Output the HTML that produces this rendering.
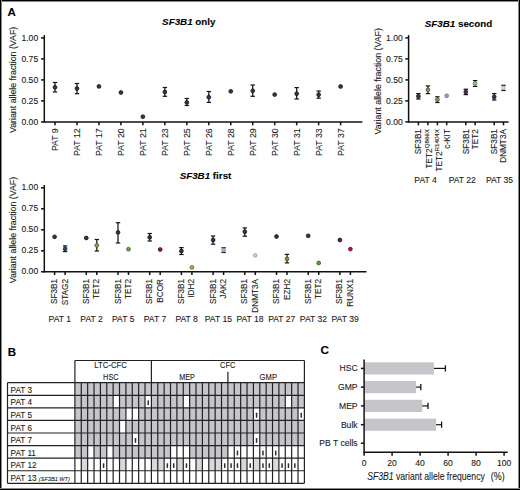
<!DOCTYPE html><html><head><meta charset="utf-8"><style>
html,body{margin:0;padding:0;background:#fff;}
svg{display:block;}
text{font-family:"Liberation Sans", sans-serif;stroke:#1a1a1a;stroke-width:0.1px;}
</style></head><body>
<svg width="520" height="490" viewBox="0 0 520 490">
<rect x="0" y="0" width="520" height="490" fill="#fff" />
<text x="7.5" y="15.6" font-size="11.5" text-anchor="start" font-weight="bold" font-style="normal" fill="#000" >A</text>
<text x="188.8" y="25.4" font-size="9.8" text-anchor="middle" font-weight="bold" fill="#000"><tspan font-style="italic">SF3B1</tspan> only</text>
<line x1="44.3" y1="35.10000000000001" x2="44.3" y2="122.5" stroke="#111" stroke-width="1.5"/>
<line x1="41.0" y1="37.900000000000006" x2="44.3" y2="37.900000000000006" stroke="#111" stroke-width="1.5"/>
<text x="38.2" y="40.50000000000001" font-size="8.6" text-anchor="end" font-weight="normal" font-style="normal" fill="#1a1a1a" >1.00</text>
<line x1="41.0" y1="58.900000000000006" x2="44.3" y2="58.900000000000006" stroke="#111" stroke-width="1.5"/>
<text x="38.2" y="61.50000000000001" font-size="8.6" text-anchor="end" font-weight="normal" font-style="normal" fill="#1a1a1a" >0.75</text>
<line x1="41.0" y1="79.9" x2="44.3" y2="79.9" stroke="#111" stroke-width="1.5"/>
<text x="38.2" y="82.5" font-size="8.6" text-anchor="end" font-weight="normal" font-style="normal" fill="#1a1a1a" >0.50</text>
<line x1="41.0" y1="100.9" x2="44.3" y2="100.9" stroke="#111" stroke-width="1.5"/>
<text x="38.2" y="103.5" font-size="8.6" text-anchor="end" font-weight="normal" font-style="normal" fill="#1a1a1a" >0.25</text>
<line x1="41.0" y1="121.9" x2="44.3" y2="121.9" stroke="#111" stroke-width="1.5"/>
<text x="38.2" y="124.5" font-size="8.6" text-anchor="end" font-weight="normal" font-style="normal" fill="#1a1a1a" >0.00</text>
<text transform="translate(15.6,79.9) rotate(-90)" font-size="8.8" text-anchor="middle" fill="#1a1a1a">Variant allele fraction (VAF)</text>
<line x1="43.699999999999996" y1="121.9" x2="362.4" y2="121.9" stroke="#111" stroke-width="1.5"/>
<line x1="55.0" y1="121.9" x2="55.0" y2="125.30000000000001" stroke="#111" stroke-width="1.5"/>
<text transform="translate(58.1,128.4) rotate(-90)" font-size="8.7" text-anchor="end" fill="#1a1a1a">PAT 9</text>
<line x1="55.0" y1="82.5" x2="55.0" y2="92.0" stroke="#151515" stroke-width="1.25"/>
<line x1="52.8" y1="82.5" x2="57.2" y2="82.5" stroke="#151515" stroke-width="1.2"/>
<line x1="52.8" y1="92.0" x2="57.2" y2="92.0" stroke="#151515" stroke-width="1.2"/>
<circle cx="55.0" cy="87.3" r="1.9" fill="#472a58" stroke="#190e20" stroke-width="0.8"/>
<line x1="76.97" y1="121.9" x2="76.97" y2="125.30000000000001" stroke="#111" stroke-width="1.5"/>
<text transform="translate(80.07,128.4) rotate(-90)" font-size="8.7" text-anchor="end" fill="#1a1a1a">PAT 12</text>
<line x1="76.97" y1="83.5" x2="76.97" y2="93.7" stroke="#151515" stroke-width="1.25"/>
<line x1="74.77" y1="83.5" x2="79.17" y2="83.5" stroke="#151515" stroke-width="1.2"/>
<line x1="74.77" y1="93.7" x2="79.17" y2="93.7" stroke="#151515" stroke-width="1.2"/>
<circle cx="76.97" cy="88.5" r="1.9" fill="#472a58" stroke="#190e20" stroke-width="0.8"/>
<line x1="98.94" y1="121.9" x2="98.94" y2="125.30000000000001" stroke="#111" stroke-width="1.5"/>
<text transform="translate(102.03999999999999,128.4) rotate(-90)" font-size="8.7" text-anchor="end" fill="#1a1a1a">PAT 17</text>
<circle cx="98.94" cy="86.4" r="1.9" fill="#472a58" stroke="#190e20" stroke-width="0.8"/>
<line x1="120.91" y1="121.9" x2="120.91" y2="125.30000000000001" stroke="#111" stroke-width="1.5"/>
<text transform="translate(124.00999999999999,128.4) rotate(-90)" font-size="8.7" text-anchor="end" fill="#1a1a1a">PAT 20</text>
<circle cx="120.91" cy="92.5" r="1.9" fill="#472a58" stroke="#190e20" stroke-width="0.8"/>
<line x1="142.88" y1="121.9" x2="142.88" y2="125.30000000000001" stroke="#111" stroke-width="1.5"/>
<text transform="translate(145.98,128.4) rotate(-90)" font-size="8.7" text-anchor="end" fill="#1a1a1a">PAT 21</text>
<circle cx="142.88" cy="116.7" r="1.9" fill="#472a58" stroke="#190e20" stroke-width="0.8"/>
<line x1="164.85" y1="121.9" x2="164.85" y2="125.30000000000001" stroke="#111" stroke-width="1.5"/>
<text transform="translate(167.95,128.4) rotate(-90)" font-size="8.7" text-anchor="end" fill="#1a1a1a">PAT 23</text>
<line x1="164.85" y1="87.5" x2="164.85" y2="96.3" stroke="#151515" stroke-width="1.25"/>
<line x1="162.65" y1="87.5" x2="167.04999999999998" y2="87.5" stroke="#151515" stroke-width="1.2"/>
<line x1="162.65" y1="96.3" x2="167.04999999999998" y2="96.3" stroke="#151515" stroke-width="1.2"/>
<circle cx="164.85" cy="92.0" r="1.9" fill="#472a58" stroke="#190e20" stroke-width="0.8"/>
<line x1="186.82" y1="121.9" x2="186.82" y2="125.30000000000001" stroke="#111" stroke-width="1.5"/>
<text transform="translate(189.92,128.4) rotate(-90)" font-size="8.7" text-anchor="end" fill="#1a1a1a">PAT 25</text>
<line x1="186.82" y1="98.5" x2="186.82" y2="105.5" stroke="#151515" stroke-width="1.25"/>
<line x1="184.62" y1="98.5" x2="189.01999999999998" y2="98.5" stroke="#151515" stroke-width="1.2"/>
<line x1="184.62" y1="105.5" x2="189.01999999999998" y2="105.5" stroke="#151515" stroke-width="1.2"/>
<circle cx="186.82" cy="102.4" r="1.9" fill="#472a58" stroke="#190e20" stroke-width="0.8"/>
<line x1="208.79" y1="121.9" x2="208.79" y2="125.30000000000001" stroke="#111" stroke-width="1.5"/>
<text transform="translate(211.89,128.4) rotate(-90)" font-size="8.7" text-anchor="end" fill="#1a1a1a">PAT 26</text>
<line x1="208.79" y1="91.5" x2="208.79" y2="102.4" stroke="#151515" stroke-width="1.25"/>
<line x1="206.59" y1="91.5" x2="210.98999999999998" y2="91.5" stroke="#151515" stroke-width="1.2"/>
<line x1="206.59" y1="102.4" x2="210.98999999999998" y2="102.4" stroke="#151515" stroke-width="1.2"/>
<circle cx="208.79" cy="97.2" r="1.9" fill="#472a58" stroke="#190e20" stroke-width="0.8"/>
<line x1="230.76" y1="121.9" x2="230.76" y2="125.30000000000001" stroke="#111" stroke-width="1.5"/>
<text transform="translate(233.85999999999999,128.4) rotate(-90)" font-size="8.7" text-anchor="end" fill="#1a1a1a">PAT 28</text>
<circle cx="230.76" cy="91.3" r="1.9" fill="#472a58" stroke="#190e20" stroke-width="0.8"/>
<line x1="252.73" y1="121.9" x2="252.73" y2="125.30000000000001" stroke="#111" stroke-width="1.5"/>
<text transform="translate(255.82999999999998,128.4) rotate(-90)" font-size="8.7" text-anchor="end" fill="#1a1a1a">PAT 29</text>
<line x1="252.73" y1="85.0" x2="252.73" y2="96.3" stroke="#151515" stroke-width="1.25"/>
<line x1="250.53" y1="85.0" x2="254.92999999999998" y2="85.0" stroke="#151515" stroke-width="1.2"/>
<line x1="250.53" y1="96.3" x2="254.92999999999998" y2="96.3" stroke="#151515" stroke-width="1.2"/>
<circle cx="252.73" cy="90.8" r="1.9" fill="#472a58" stroke="#190e20" stroke-width="0.8"/>
<line x1="274.7" y1="121.9" x2="274.7" y2="125.30000000000001" stroke="#111" stroke-width="1.5"/>
<text transform="translate(277.8,128.4) rotate(-90)" font-size="8.7" text-anchor="end" fill="#1a1a1a">PAT 30</text>
<circle cx="274.7" cy="94.6" r="1.9" fill="#472a58" stroke="#190e20" stroke-width="0.8"/>
<line x1="296.66999999999996" y1="121.9" x2="296.66999999999996" y2="125.30000000000001" stroke="#111" stroke-width="1.5"/>
<text transform="translate(299.77,128.4) rotate(-90)" font-size="8.7" text-anchor="end" fill="#1a1a1a">PAT 31</text>
<line x1="296.66999999999996" y1="87.6" x2="296.66999999999996" y2="99.0" stroke="#151515" stroke-width="1.25"/>
<line x1="294.46999999999997" y1="87.6" x2="298.86999999999995" y2="87.6" stroke="#151515" stroke-width="1.2"/>
<line x1="294.46999999999997" y1="99.0" x2="298.86999999999995" y2="99.0" stroke="#151515" stroke-width="1.2"/>
<circle cx="296.66999999999996" cy="93.7" r="1.9" fill="#472a58" stroke="#190e20" stroke-width="0.8"/>
<line x1="318.64" y1="121.9" x2="318.64" y2="125.30000000000001" stroke="#111" stroke-width="1.5"/>
<text transform="translate(321.74,128.4) rotate(-90)" font-size="8.7" text-anchor="end" fill="#1a1a1a">PAT 33</text>
<line x1="318.64" y1="91.0" x2="318.64" y2="98.2" stroke="#151515" stroke-width="1.25"/>
<line x1="316.44" y1="91.0" x2="320.84" y2="91.0" stroke="#151515" stroke-width="1.2"/>
<line x1="316.44" y1="98.2" x2="320.84" y2="98.2" stroke="#151515" stroke-width="1.2"/>
<circle cx="318.64" cy="94.7" r="1.9" fill="#472a58" stroke="#190e20" stroke-width="0.8"/>
<line x1="340.61" y1="121.9" x2="340.61" y2="125.30000000000001" stroke="#111" stroke-width="1.5"/>
<text transform="translate(343.71000000000004,128.4) rotate(-90)" font-size="8.7" text-anchor="end" fill="#1a1a1a">PAT 37</text>
<circle cx="340.61" cy="86.5" r="1.9" fill="#472a58" stroke="#190e20" stroke-width="0.8"/>
<text x="458.5" y="26.6" font-size="9.8" text-anchor="middle" font-weight="bold" fill="#000"><tspan font-style="italic">SF3B1</tspan> second</text>
<line x1="408.6" y1="35.10000000000001" x2="408.6" y2="122.5" stroke="#111" stroke-width="1.5"/>
<line x1="405.3" y1="37.900000000000006" x2="408.6" y2="37.900000000000006" stroke="#111" stroke-width="1.5"/>
<text x="402.8" y="40.50000000000001" font-size="8.6" text-anchor="end" font-weight="normal" font-style="normal" fill="#1a1a1a" >1.00</text>
<line x1="405.3" y1="58.900000000000006" x2="408.6" y2="58.900000000000006" stroke="#111" stroke-width="1.5"/>
<text x="402.8" y="61.50000000000001" font-size="8.6" text-anchor="end" font-weight="normal" font-style="normal" fill="#1a1a1a" >0.75</text>
<line x1="405.3" y1="79.9" x2="408.6" y2="79.9" stroke="#111" stroke-width="1.5"/>
<text x="402.8" y="82.5" font-size="8.6" text-anchor="end" font-weight="normal" font-style="normal" fill="#1a1a1a" >0.50</text>
<line x1="405.3" y1="100.9" x2="408.6" y2="100.9" stroke="#111" stroke-width="1.5"/>
<text x="402.8" y="103.5" font-size="8.6" text-anchor="end" font-weight="normal" font-style="normal" fill="#1a1a1a" >0.25</text>
<line x1="405.3" y1="121.9" x2="408.6" y2="121.9" stroke="#111" stroke-width="1.5"/>
<text x="402.8" y="124.5" font-size="8.6" text-anchor="end" font-weight="normal" font-style="normal" fill="#1a1a1a" >0.00</text>
<text transform="translate(381.3,81.30000000000001) rotate(-90)" font-size="8.8" text-anchor="middle" fill="#1a1a1a">Variant allele fraction (VAF)</text>
<line x1="408.0" y1="121.9" x2="508.6" y2="121.9" stroke="#111" stroke-width="1.5"/>
<line x1="418.4" y1="121.9" x2="418.4" y2="125.30000000000001" stroke="#111" stroke-width="1.5"/>
<text transform="translate(421.29999999999995,129.1) rotate(-90)" font-size="8.2" text-anchor="end" fill="#1a1a1a">SF3B1</text>
<line x1="418.4" y1="93.6" x2="418.4" y2="99.0" stroke="#151515" stroke-width="1.25"/>
<line x1="416.2" y1="93.6" x2="420.59999999999997" y2="93.6" stroke="#151515" stroke-width="1.2"/>
<line x1="416.2" y1="99.0" x2="420.59999999999997" y2="99.0" stroke="#151515" stroke-width="1.2"/>
<circle cx="418.4" cy="96.3" r="1.9" fill="#472a58" stroke="#271730" stroke-width="0.8"/>
<line x1="427.9" y1="121.9" x2="427.9" y2="125.30000000000001" stroke="#111" stroke-width="1.5"/>
<text transform="translate(432.09999999999997,129.1) rotate(-90)" font-size="8.2" text-anchor="end" fill="#1a1a1a">TET2<tspan font-size="6.2" dy="-3.0">Q866X</tspan></text>
<line x1="427.9" y1="85.9" x2="427.9" y2="93.6" stroke="#151515" stroke-width="1.25"/>
<line x1="425.7" y1="85.9" x2="430.09999999999997" y2="85.9" stroke="#151515" stroke-width="1.2"/>
<line x1="425.7" y1="93.6" x2="430.09999999999997" y2="93.6" stroke="#151515" stroke-width="1.2"/>
<circle cx="427.9" cy="89.8" r="1.9" fill="#7a9c60" stroke="#435534" stroke-width="0.8"/>
<line x1="437.4" y1="121.9" x2="437.4" y2="125.30000000000001" stroke="#111" stroke-width="1.5"/>
<text transform="translate(441.59999999999997,129.1) rotate(-90)" font-size="8.2" text-anchor="end" fill="#1a1a1a">TET2<tspan font-size="6.2" dy="-3.0">R1404X</tspan></text>
<line x1="437.4" y1="96.8" x2="437.4" y2="102.5" stroke="#151515" stroke-width="1.25"/>
<line x1="435.2" y1="96.8" x2="439.59999999999997" y2="96.8" stroke="#151515" stroke-width="1.2"/>
<line x1="435.2" y1="102.5" x2="439.59999999999997" y2="102.5" stroke="#151515" stroke-width="1.2"/>
<circle cx="437.4" cy="99.6" r="1.9" fill="#7a9c60" stroke="#435534" stroke-width="0.8"/>
<line x1="446.7" y1="121.9" x2="446.7" y2="125.30000000000001" stroke="#111" stroke-width="1.5"/>
<text transform="translate(449.59999999999997,129.1) rotate(-90)" font-size="8.2" text-anchor="end" fill="#1a1a1a">c-KIT</text>
<circle cx="446.7" cy="95.8" r="1.9" fill="#9c90c4" stroke="#7c739c" stroke-width="0.8"/>
<line x1="465.8" y1="121.9" x2="465.8" y2="125.30000000000001" stroke="#111" stroke-width="1.5"/>
<text transform="translate(468.7,129.1) rotate(-90)" font-size="8.2" text-anchor="end" fill="#1a1a1a">SF3B1</text>
<line x1="465.8" y1="89.2" x2="465.8" y2="94.6" stroke="#151515" stroke-width="1.25"/>
<line x1="463.6" y1="89.2" x2="468.0" y2="89.2" stroke="#151515" stroke-width="1.2"/>
<line x1="463.6" y1="94.6" x2="468.0" y2="94.6" stroke="#151515" stroke-width="1.2"/>
<circle cx="465.8" cy="91.9" r="1.9" fill="#472a58" stroke="#271730" stroke-width="0.8"/>
<line x1="475.1" y1="121.9" x2="475.1" y2="125.30000000000001" stroke="#111" stroke-width="1.5"/>
<text transform="translate(478.0,129.1) rotate(-90)" font-size="8.2" text-anchor="end" fill="#1a1a1a">TET2</text>
<line x1="475.1" y1="80.6" x2="475.1" y2="86.4" stroke="#151515" stroke-width="1.25"/>
<line x1="472.90000000000003" y1="80.6" x2="477.3" y2="80.6" stroke="#151515" stroke-width="1.2"/>
<line x1="472.90000000000003" y1="86.4" x2="477.3" y2="86.4" stroke="#151515" stroke-width="1.2"/>
<circle cx="475.1" cy="83.5" r="1.9" fill="#a8c488" stroke="#5c6b4a" stroke-width="0.8"/>
<line x1="494.2" y1="121.9" x2="494.2" y2="125.30000000000001" stroke="#111" stroke-width="1.5"/>
<text transform="translate(497.09999999999997,129.1) rotate(-90)" font-size="8.2" text-anchor="end" fill="#1a1a1a">SF3B1</text>
<line x1="494.2" y1="93.6" x2="494.2" y2="100.0" stroke="#151515" stroke-width="1.25"/>
<line x1="492.0" y1="93.6" x2="496.4" y2="93.6" stroke="#151515" stroke-width="1.2"/>
<line x1="492.0" y1="100.0" x2="496.4" y2="100.0" stroke="#151515" stroke-width="1.2"/>
<circle cx="494.2" cy="96.9" r="1.9" fill="#472a58" stroke="#271730" stroke-width="0.8"/>
<line x1="503.5" y1="121.9" x2="503.5" y2="125.30000000000001" stroke="#111" stroke-width="1.5"/>
<text transform="translate(506.4,129.1) rotate(-90)" font-size="8.2" text-anchor="end" fill="#1a1a1a">DNMT3A</text>
<line x1="503.5" y1="85.3" x2="503.5" y2="90.5" stroke="#151515" stroke-width="1.25"/>
<line x1="501.3" y1="85.3" x2="505.7" y2="85.3" stroke="#151515" stroke-width="1.2"/>
<line x1="501.3" y1="90.5" x2="505.7" y2="90.5" stroke="#151515" stroke-width="1.2"/>
<circle cx="503.5" cy="87.9" r="1.9" fill="#d8d8d8" stroke="#acacac" stroke-width="0.8"/>
<text x="425.6" y="182.8" font-size="8.6" text-anchor="middle" font-weight="normal" font-style="normal" fill="#1a1a1a" >PAT 4</text>
<text x="462.3" y="182.8" font-size="8.6" text-anchor="middle" font-weight="normal" font-style="normal" fill="#1a1a1a" >PAT 22</text>
<text x="499.5" y="182.8" font-size="8.6" text-anchor="middle" font-weight="normal" font-style="normal" fill="#1a1a1a" >PAT 35</text>
<text x="205.5" y="178.7" font-size="9.8" text-anchor="middle" font-weight="bold" fill="#000"><tspan font-style="italic">SF3B1</tspan> first</text>
<line x1="44.3" y1="185.0" x2="44.3" y2="272.40000000000003" stroke="#111" stroke-width="1.5"/>
<line x1="41.0" y1="187.8" x2="44.3" y2="187.8" stroke="#111" stroke-width="1.5"/>
<text x="38.2" y="190.4" font-size="8.6" text-anchor="end" font-weight="normal" font-style="normal" fill="#1a1a1a" >1.00</text>
<line x1="41.0" y1="208.8" x2="44.3" y2="208.8" stroke="#111" stroke-width="1.5"/>
<text x="38.2" y="211.4" font-size="8.6" text-anchor="end" font-weight="normal" font-style="normal" fill="#1a1a1a" >0.75</text>
<line x1="41.0" y1="229.8" x2="44.3" y2="229.8" stroke="#111" stroke-width="1.5"/>
<text x="38.2" y="232.4" font-size="8.6" text-anchor="end" font-weight="normal" font-style="normal" fill="#1a1a1a" >0.50</text>
<line x1="41.0" y1="250.8" x2="44.3" y2="250.8" stroke="#111" stroke-width="1.5"/>
<text x="38.2" y="253.4" font-size="8.6" text-anchor="end" font-weight="normal" font-style="normal" fill="#1a1a1a" >0.25</text>
<line x1="41.0" y1="271.8" x2="44.3" y2="271.8" stroke="#111" stroke-width="1.5"/>
<text x="38.2" y="274.40000000000003" font-size="8.6" text-anchor="end" font-weight="normal" font-style="normal" fill="#1a1a1a" >0.00</text>
<text transform="translate(15.6,230.05) rotate(-90)" font-size="8.8" text-anchor="middle" fill="#1a1a1a">Variant allele fraction (VAF)</text>
<line x1="43.699999999999996" y1="271.8" x2="366.5" y2="271.8" stroke="#111" stroke-width="1.5"/>
<line x1="54.6" y1="271.8" x2="54.6" y2="275.0" stroke="#111" stroke-width="1.5"/>
<line x1="65.1" y1="271.8" x2="65.1" y2="275.0" stroke="#111" stroke-width="1.5"/>
<text transform="translate(57.1,279.0) rotate(-90)" font-size="8.2" text-anchor="end" fill="#1a1a1a">SF3B1</text>
<text transform="translate(67.6,279.0) rotate(-90)" font-size="8.2" text-anchor="end" fill="#1a1a1a">STAG2</text>
<circle cx="54.6" cy="236.8" r="1.9" fill="#472a58" stroke="#190e20" stroke-width="0.8"/>
<line x1="65.1" y1="245.9" x2="65.1" y2="251.6" stroke="#151515" stroke-width="1.25"/>
<line x1="62.89999999999999" y1="245.9" x2="67.3" y2="245.9" stroke="#151515" stroke-width="1.2"/>
<line x1="62.89999999999999" y1="251.6" x2="67.3" y2="251.6" stroke="#151515" stroke-width="1.2"/>
<circle cx="65.1" cy="248.8" r="1.9" fill="#2a4862" stroke="#172735" stroke-width="0.8"/>
<text x="59.849999999999994" y="322.3" font-size="8.6" text-anchor="middle" font-weight="normal" font-style="normal" fill="#1a1a1a" >PAT 1</text>
<line x1="86.3" y1="271.8" x2="86.3" y2="275.0" stroke="#111" stroke-width="1.5"/>
<line x1="96.8" y1="271.8" x2="96.8" y2="275.0" stroke="#111" stroke-width="1.5"/>
<text transform="translate(88.8,279.0) rotate(-90)" font-size="8.2" text-anchor="end" fill="#1a1a1a">SF3B1</text>
<text transform="translate(99.3,279.0) rotate(-90)" font-size="8.2" text-anchor="end" fill="#1a1a1a">TET2</text>
<circle cx="86.3" cy="238.0" r="1.9" fill="#472a58" stroke="#190e20" stroke-width="0.8"/>
<line x1="96.8" y1="239.5" x2="96.8" y2="251.0" stroke="#151515" stroke-width="1.25"/>
<line x1="94.6" y1="239.5" x2="99.0" y2="239.5" stroke="#151515" stroke-width="1.2"/>
<line x1="94.6" y1="251.0" x2="99.0" y2="251.0" stroke="#151515" stroke-width="1.2"/>
<circle cx="96.8" cy="245.4" r="1.9" fill="#78a850" stroke="#425c2c" stroke-width="0.8"/>
<text x="91.55" y="322.3" font-size="8.6" text-anchor="middle" font-weight="normal" font-style="normal" fill="#1a1a1a" >PAT 2</text>
<line x1="118.0" y1="271.8" x2="118.0" y2="275.0" stroke="#111" stroke-width="1.5"/>
<line x1="128.5" y1="271.8" x2="128.5" y2="275.0" stroke="#111" stroke-width="1.5"/>
<text transform="translate(120.5,279.0) rotate(-90)" font-size="8.2" text-anchor="end" fill="#1a1a1a">SF3B1</text>
<text transform="translate(131.0,279.0) rotate(-90)" font-size="8.2" text-anchor="end" fill="#1a1a1a">TET2</text>
<line x1="118.0" y1="222.7" x2="118.0" y2="243.0" stroke="#151515" stroke-width="1.25"/>
<line x1="115.8" y1="222.7" x2="120.2" y2="222.7" stroke="#151515" stroke-width="1.2"/>
<line x1="115.8" y1="243.0" x2="120.2" y2="243.0" stroke="#151515" stroke-width="1.2"/>
<circle cx="118.0" cy="232.4" r="1.9" fill="#472a58" stroke="#190e20" stroke-width="0.8"/>
<circle cx="128.5" cy="249.2" r="1.9" fill="#6aa845" stroke="#3a5c25" stroke-width="0.8"/>
<text x="123.25" y="322.3" font-size="8.6" text-anchor="middle" font-weight="normal" font-style="normal" fill="#1a1a1a" >PAT 5</text>
<line x1="149.7" y1="271.8" x2="149.7" y2="275.0" stroke="#111" stroke-width="1.5"/>
<line x1="160.2" y1="271.8" x2="160.2" y2="275.0" stroke="#111" stroke-width="1.5"/>
<text transform="translate(152.2,279.0) rotate(-90)" font-size="8.2" text-anchor="end" fill="#1a1a1a">SF3B1</text>
<text transform="translate(162.7,279.0) rotate(-90)" font-size="8.2" text-anchor="end" fill="#1a1a1a">BCOR</text>
<line x1="149.7" y1="233.5" x2="149.7" y2="241.0" stroke="#151515" stroke-width="1.25"/>
<line x1="147.5" y1="233.5" x2="151.89999999999998" y2="233.5" stroke="#151515" stroke-width="1.2"/>
<line x1="147.5" y1="241.0" x2="151.89999999999998" y2="241.0" stroke="#151515" stroke-width="1.2"/>
<circle cx="149.7" cy="237.3" r="1.9" fill="#472a58" stroke="#190e20" stroke-width="0.8"/>
<circle cx="160.2" cy="249.5" r="1.9" fill="#8c1636" stroke="#4d0c1d" stroke-width="0.8"/>
<text x="154.95" y="322.3" font-size="8.6" text-anchor="middle" font-weight="normal" font-style="normal" fill="#1a1a1a" >PAT 7</text>
<line x1="181.4" y1="271.8" x2="181.4" y2="275.0" stroke="#111" stroke-width="1.5"/>
<line x1="191.9" y1="271.8" x2="191.9" y2="275.0" stroke="#111" stroke-width="1.5"/>
<text transform="translate(183.9,279.0) rotate(-90)" font-size="8.2" text-anchor="end" fill="#1a1a1a">SF3B1</text>
<text transform="translate(194.4,279.0) rotate(-90)" font-size="8.2" text-anchor="end" fill="#1a1a1a">IDH2</text>
<line x1="181.4" y1="247.6" x2="181.4" y2="254.5" stroke="#151515" stroke-width="1.25"/>
<line x1="179.20000000000002" y1="247.6" x2="183.6" y2="247.6" stroke="#151515" stroke-width="1.2"/>
<line x1="179.20000000000002" y1="254.5" x2="183.6" y2="254.5" stroke="#151515" stroke-width="1.2"/>
<circle cx="181.4" cy="251.0" r="1.9" fill="#472a58" stroke="#190e20" stroke-width="0.8"/>
<circle cx="191.9" cy="267.4" r="1.9" fill="#c8a640" stroke="#6e5b23" stroke-width="0.8"/>
<text x="186.65" y="322.3" font-size="8.6" text-anchor="middle" font-weight="normal" font-style="normal" fill="#1a1a1a" >PAT 8</text>
<line x1="213.1" y1="271.8" x2="213.1" y2="275.0" stroke="#111" stroke-width="1.5"/>
<line x1="223.6" y1="271.8" x2="223.6" y2="275.0" stroke="#111" stroke-width="1.5"/>
<text transform="translate(215.6,279.0) rotate(-90)" font-size="8.2" text-anchor="end" fill="#1a1a1a">SF3B1</text>
<text transform="translate(226.1,279.0) rotate(-90)" font-size="8.2" text-anchor="end" fill="#1a1a1a">JAK2</text>
<line x1="213.1" y1="236.0" x2="213.1" y2="244.2" stroke="#151515" stroke-width="1.25"/>
<line x1="210.9" y1="236.0" x2="215.29999999999998" y2="236.0" stroke="#151515" stroke-width="1.2"/>
<line x1="210.9" y1="244.2" x2="215.29999999999998" y2="244.2" stroke="#151515" stroke-width="1.2"/>
<circle cx="213.1" cy="240.0" r="1.9" fill="#472a58" stroke="#190e20" stroke-width="0.8"/>
<line x1="223.6" y1="247.8" x2="223.6" y2="252.5" stroke="#151515" stroke-width="1.25"/>
<line x1="221.4" y1="247.8" x2="225.79999999999998" y2="247.8" stroke="#151515" stroke-width="1.2"/>
<line x1="221.4" y1="252.5" x2="225.79999999999998" y2="252.5" stroke="#151515" stroke-width="1.2"/>
<circle cx="223.6" cy="250.1" r="1.9" fill="#98b8dc" stroke="#7993b0" stroke-width="0.8"/>
<text x="218.35" y="322.3" font-size="8.6" text-anchor="middle" font-weight="normal" font-style="normal" fill="#1a1a1a" >PAT 15</text>
<line x1="244.79999999999998" y1="271.8" x2="244.79999999999998" y2="275.0" stroke="#111" stroke-width="1.5"/>
<line x1="255.29999999999998" y1="271.8" x2="255.29999999999998" y2="275.0" stroke="#111" stroke-width="1.5"/>
<text transform="translate(247.29999999999998,279.0) rotate(-90)" font-size="8.2" text-anchor="end" fill="#1a1a1a">SF3B1</text>
<text transform="translate(257.79999999999995,279.0) rotate(-90)" font-size="8.2" text-anchor="end" fill="#1a1a1a">DNMT3A</text>
<line x1="244.79999999999998" y1="227.9" x2="244.79999999999998" y2="236.2" stroke="#151515" stroke-width="1.25"/>
<line x1="242.6" y1="227.9" x2="246.99999999999997" y2="227.9" stroke="#151515" stroke-width="1.2"/>
<line x1="242.6" y1="236.2" x2="246.99999999999997" y2="236.2" stroke="#151515" stroke-width="1.2"/>
<circle cx="244.79999999999998" cy="231.7" r="1.9" fill="#472a58" stroke="#190e20" stroke-width="0.8"/>
<circle cx="255.29999999999998" cy="255.4" r="1.9" fill="#cdcdcd" stroke="#a4a4a4" stroke-width="0.8"/>
<text x="250.04999999999998" y="322.3" font-size="8.6" text-anchor="middle" font-weight="normal" font-style="normal" fill="#1a1a1a" >PAT 18</text>
<line x1="276.5" y1="271.8" x2="276.5" y2="275.0" stroke="#111" stroke-width="1.5"/>
<line x1="287.0" y1="271.8" x2="287.0" y2="275.0" stroke="#111" stroke-width="1.5"/>
<text transform="translate(279.0,279.0) rotate(-90)" font-size="8.2" text-anchor="end" fill="#1a1a1a">SF3B1</text>
<text transform="translate(289.5,279.0) rotate(-90)" font-size="8.2" text-anchor="end" fill="#1a1a1a">EZH2</text>
<circle cx="276.5" cy="236.5" r="1.9" fill="#472a58" stroke="#190e20" stroke-width="0.8"/>
<line x1="287.0" y1="254.4" x2="287.0" y2="262.9" stroke="#151515" stroke-width="1.25"/>
<line x1="284.8" y1="254.4" x2="289.2" y2="254.4" stroke="#151515" stroke-width="1.2"/>
<line x1="284.8" y1="262.9" x2="289.2" y2="262.9" stroke="#151515" stroke-width="1.2"/>
<circle cx="287.0" cy="258.9" r="1.9" fill="#a88034" stroke="#5c461c" stroke-width="0.8"/>
<text x="281.75" y="322.3" font-size="8.6" text-anchor="middle" font-weight="normal" font-style="normal" fill="#1a1a1a" >PAT 27</text>
<line x1="308.2" y1="271.8" x2="308.2" y2="275.0" stroke="#111" stroke-width="1.5"/>
<line x1="318.7" y1="271.8" x2="318.7" y2="275.0" stroke="#111" stroke-width="1.5"/>
<text transform="translate(310.7,279.0) rotate(-90)" font-size="8.2" text-anchor="end" fill="#1a1a1a">SF3B1</text>
<text transform="translate(321.2,279.0) rotate(-90)" font-size="8.2" text-anchor="end" fill="#1a1a1a">TET2</text>
<circle cx="308.2" cy="235.8" r="1.9" fill="#472a58" stroke="#190e20" stroke-width="0.8"/>
<circle cx="318.7" cy="263.0" r="1.9" fill="#5e9e3e" stroke="#335622" stroke-width="0.8"/>
<text x="313.45" y="322.3" font-size="8.6" text-anchor="middle" font-weight="normal" font-style="normal" fill="#1a1a1a" >PAT 32</text>
<line x1="339.90000000000003" y1="271.8" x2="339.90000000000003" y2="275.0" stroke="#111" stroke-width="1.5"/>
<line x1="350.40000000000003" y1="271.8" x2="350.40000000000003" y2="275.0" stroke="#111" stroke-width="1.5"/>
<text transform="translate(342.40000000000003,279.0) rotate(-90)" font-size="8.2" text-anchor="end" fill="#1a1a1a">SF3B1</text>
<text transform="translate(352.90000000000003,279.0) rotate(-90)" font-size="8.2" text-anchor="end" fill="#1a1a1a">RUNX1</text>
<circle cx="339.90000000000003" cy="240.0" r="1.9" fill="#472a58" stroke="#190e20" stroke-width="0.8"/>
<circle cx="350.40000000000003" cy="249.1" r="1.9" fill="#b8145e" stroke="#650b33" stroke-width="0.8"/>
<text x="345.15000000000003" y="322.3" font-size="8.6" text-anchor="middle" font-weight="normal" font-style="normal" fill="#1a1a1a" >PAT 39</text>
<text x="7.7" y="356.4" font-size="11.5" text-anchor="start" font-weight="bold" font-style="normal" fill="#000" >B</text>
<rect x="74.9" y="382.7" width="6.375" height="12.58" fill="#c6c6ca" />
<rect x="81.275" y="382.7" width="6.375" height="12.58" fill="#c6c6ca" />
<rect x="87.65" y="382.7" width="6.375" height="12.58" fill="#c6c6ca" />
<rect x="94.025" y="382.7" width="6.375" height="12.58" fill="#c6c6ca" />
<rect x="100.4" y="382.7" width="6.375" height="12.58" fill="#c6c6ca" />
<rect x="106.775" y="382.7" width="6.375" height="12.58" fill="#c6c6ca" />
<rect x="113.15" y="382.7" width="6.375" height="12.58" fill="#c6c6ca" />
<rect x="119.525" y="382.7" width="6.375" height="12.58" fill="#c6c6ca" />
<rect x="125.9" y="382.7" width="6.375" height="12.58" fill="#c6c6ca" />
<rect x="132.275" y="382.7" width="6.375" height="12.58" fill="#c6c6ca" />
<rect x="138.65" y="382.7" width="6.375" height="12.58" fill="#c6c6ca" />
<rect x="145.025" y="382.7" width="6.375" height="12.58" fill="#c6c6ca" />
<rect x="151.4" y="382.7" width="6.375" height="12.58" fill="#c6c6ca" />
<rect x="157.775" y="382.7" width="6.375" height="12.58" fill="#c6c6ca" />
<rect x="164.15" y="382.7" width="6.375" height="12.58" fill="#c6c6ca" />
<rect x="170.525" y="382.7" width="6.375" height="12.58" fill="#c6c6ca" />
<rect x="176.9" y="382.7" width="6.375" height="12.58" fill="#c6c6ca" />
<rect x="183.275" y="382.7" width="6.375" height="12.58" fill="#c6c6ca" />
<rect x="189.65" y="382.7" width="6.375" height="12.58" fill="#c6c6ca" />
<rect x="196.025" y="382.7" width="6.375" height="12.58" fill="#c6c6ca" />
<rect x="202.4" y="382.7" width="6.375" height="12.58" fill="#c6c6ca" />
<rect x="208.775" y="382.7" width="6.375" height="12.58" fill="#c6c6ca" />
<rect x="215.15" y="382.7" width="6.375" height="12.58" fill="#c6c6ca" />
<rect x="221.525" y="382.7" width="6.375" height="12.58" fill="#c6c6ca" />
<rect x="227.9" y="382.7" width="6.375" height="12.58" fill="#c6c6ca" />
<rect x="234.275" y="382.7" width="6.375" height="12.58" fill="#c6c6ca" />
<rect x="240.65" y="382.7" width="6.375" height="12.58" fill="#c6c6ca" />
<rect x="247.025" y="382.7" width="6.375" height="12.58" fill="#c6c6ca" />
<rect x="253.4" y="382.7" width="6.375" height="12.58" fill="#c6c6ca" />
<rect x="259.775" y="382.7" width="6.375" height="12.58" fill="#c6c6ca" />
<rect x="266.15" y="382.7" width="6.375" height="12.58" fill="#c6c6ca" />
<rect x="272.525" y="382.7" width="6.375" height="12.58" fill="#c6c6ca" />
<rect x="278.9" y="382.7" width="6.375" height="12.58" fill="#c6c6ca" />
<rect x="285.275" y="382.7" width="6.375" height="12.58" fill="#c6c6ca" />
<rect x="291.65" y="382.7" width="6.375" height="12.58" fill="#c6c6ca" />
<rect x="298.025" y="382.7" width="6.375" height="12.58" fill="#c6c6ca" />
<rect x="74.9" y="395.28" width="6.375" height="12.58" fill="#c6c6ca" />
<rect x="81.275" y="395.28" width="6.375" height="12.58" fill="#c6c6ca" />
<rect x="87.65" y="395.28" width="6.375" height="12.58" fill="#c6c6ca" />
<rect x="94.025" y="395.28" width="6.375" height="12.58" fill="#c6c6ca" />
<rect x="100.4" y="395.28" width="6.375" height="12.58" fill="#c6c6ca" />
<rect x="106.775" y="395.28" width="6.375" height="12.58" fill="#c6c6ca" />
<rect x="119.525" y="395.28" width="6.375" height="12.58" fill="#c6c6ca" />
<rect x="125.9" y="395.28" width="6.375" height="12.58" fill="#c6c6ca" />
<rect x="132.275" y="395.28" width="6.375" height="12.58" fill="#c6c6ca" />
<rect x="138.65" y="395.28" width="6.375" height="12.58" fill="#c6c6ca" />
<rect x="147.4625" y="400.28" width="1.5" height="4.8" fill="#2e2e2e" rx="0.4"/>
<rect x="151.4" y="395.28" width="6.375" height="12.58" fill="#c6c6ca" />
<rect x="157.775" y="395.28" width="6.375" height="12.58" fill="#c6c6ca" />
<rect x="164.15" y="395.28" width="6.375" height="12.58" fill="#c6c6ca" />
<rect x="170.525" y="395.28" width="6.375" height="12.58" fill="#c6c6ca" />
<rect x="176.9" y="395.28" width="6.375" height="12.58" fill="#c6c6ca" />
<rect x="189.65" y="395.28" width="6.375" height="12.58" fill="#c6c6ca" />
<rect x="196.025" y="395.28" width="6.375" height="12.58" fill="#c6c6ca" />
<rect x="202.4" y="395.28" width="6.375" height="12.58" fill="#c6c6ca" />
<rect x="208.775" y="395.28" width="6.375" height="12.58" fill="#c6c6ca" />
<rect x="215.15" y="395.28" width="6.375" height="12.58" fill="#c6c6ca" />
<rect x="221.525" y="395.28" width="6.375" height="12.58" fill="#c6c6ca" />
<rect x="227.9" y="395.28" width="6.375" height="12.58" fill="#c6c6ca" />
<rect x="234.275" y="395.28" width="6.375" height="12.58" fill="#c6c6ca" />
<rect x="240.65" y="395.28" width="6.375" height="12.58" fill="#c6c6ca" />
<rect x="247.025" y="395.28" width="6.375" height="12.58" fill="#c6c6ca" />
<rect x="253.4" y="395.28" width="6.375" height="12.58" fill="#c6c6ca" />
<rect x="259.775" y="395.28" width="6.375" height="12.58" fill="#c6c6ca" />
<rect x="266.15" y="395.28" width="6.375" height="12.58" fill="#c6c6ca" />
<rect x="272.525" y="395.28" width="6.375" height="12.58" fill="#c6c6ca" />
<rect x="278.9" y="395.28" width="6.375" height="12.58" fill="#c6c6ca" />
<rect x="291.65" y="395.28" width="6.375" height="12.58" fill="#c6c6ca" />
<rect x="298.025" y="395.28" width="6.375" height="12.58" fill="#c6c6ca" />
<rect x="74.9" y="407.86" width="6.375" height="12.58" fill="#c6c6ca" />
<rect x="81.275" y="407.86" width="6.375" height="12.58" fill="#c6c6ca" />
<rect x="87.65" y="407.86" width="6.375" height="12.58" fill="#c6c6ca" />
<rect x="94.025" y="407.86" width="6.375" height="12.58" fill="#c6c6ca" />
<rect x="100.4" y="407.86" width="6.375" height="12.58" fill="#c6c6ca" />
<rect x="106.775" y="407.86" width="6.375" height="12.58" fill="#c6c6ca" />
<rect x="113.15" y="407.86" width="6.375" height="12.58" fill="#c6c6ca" />
<rect x="119.525" y="407.86" width="6.375" height="12.58" fill="#c6c6ca" />
<rect x="138.65" y="407.86" width="6.375" height="12.58" fill="#c6c6ca" />
<rect x="145.025" y="407.86" width="6.375" height="12.58" fill="#c6c6ca" />
<rect x="151.4" y="407.86" width="6.375" height="12.58" fill="#c6c6ca" />
<rect x="157.775" y="407.86" width="6.375" height="12.58" fill="#c6c6ca" />
<rect x="164.15" y="407.86" width="6.375" height="12.58" fill="#c6c6ca" />
<rect x="170.525" y="407.86" width="6.375" height="12.58" fill="#c6c6ca" />
<rect x="176.9" y="407.86" width="6.375" height="12.58" fill="#c6c6ca" />
<rect x="183.275" y="407.86" width="6.375" height="12.58" fill="#c6c6ca" />
<rect x="189.65" y="407.86" width="6.375" height="12.58" fill="#c6c6ca" />
<rect x="196.025" y="407.86" width="6.375" height="12.58" fill="#c6c6ca" />
<rect x="202.4" y="407.86" width="6.375" height="12.58" fill="#c6c6ca" />
<rect x="208.775" y="407.86" width="6.375" height="12.58" fill="#c6c6ca" />
<rect x="215.15" y="407.86" width="6.375" height="12.58" fill="#c6c6ca" />
<rect x="221.525" y="407.86" width="6.375" height="12.58" fill="#c6c6ca" />
<rect x="227.9" y="407.86" width="6.375" height="12.58" fill="#c6c6ca" />
<rect x="234.275" y="407.86" width="6.375" height="12.58" fill="#c6c6ca" />
<rect x="240.65" y="407.86" width="6.375" height="12.58" fill="#c6c6ca" />
<rect x="247.025" y="407.86" width="6.375" height="12.58" fill="#c6c6ca" />
<rect x="255.83749999999998" y="412.86" width="1.5" height="4.8" fill="#2e2e2e" rx="0.4"/>
<rect x="259.775" y="407.86" width="6.375" height="12.58" fill="#c6c6ca" />
<rect x="266.15" y="407.86" width="6.375" height="12.58" fill="#c6c6ca" />
<rect x="272.525" y="407.86" width="6.375" height="12.58" fill="#c6c6ca" />
<rect x="278.9" y="407.86" width="6.375" height="12.58" fill="#c6c6ca" />
<rect x="285.275" y="407.86" width="6.375" height="12.58" fill="#c6c6ca" />
<rect x="291.65" y="407.86" width="6.375" height="12.58" fill="#c6c6ca" />
<rect x="300.4625" y="412.86" width="1.5" height="4.8" fill="#2e2e2e" rx="0.4"/>
<rect x="74.9" y="420.44" width="6.375" height="12.58" fill="#c6c6ca" />
<rect x="81.275" y="420.44" width="6.375" height="12.58" fill="#c6c6ca" />
<rect x="87.65" y="420.44" width="6.375" height="12.58" fill="#c6c6ca" />
<rect x="94.025" y="420.44" width="6.375" height="12.58" fill="#c6c6ca" />
<rect x="100.4" y="420.44" width="6.375" height="12.58" fill="#c6c6ca" />
<rect x="106.775" y="420.44" width="6.375" height="12.58" fill="#c6c6ca" />
<rect x="113.15" y="420.44" width="6.375" height="12.58" fill="#c6c6ca" />
<rect x="125.9" y="420.44" width="6.375" height="12.58" fill="#c6c6ca" />
<rect x="132.275" y="420.44" width="6.375" height="12.58" fill="#c6c6ca" />
<rect x="138.65" y="420.44" width="6.375" height="12.58" fill="#c6c6ca" />
<rect x="145.025" y="420.44" width="6.375" height="12.58" fill="#c6c6ca" />
<rect x="151.4" y="420.44" width="6.375" height="12.58" fill="#c6c6ca" />
<rect x="157.775" y="420.44" width="6.375" height="12.58" fill="#c6c6ca" />
<rect x="164.15" y="420.44" width="6.375" height="12.58" fill="#c6c6ca" />
<rect x="170.525" y="420.44" width="6.375" height="12.58" fill="#c6c6ca" />
<rect x="176.9" y="420.44" width="6.375" height="12.58" fill="#c6c6ca" />
<rect x="183.275" y="420.44" width="6.375" height="12.58" fill="#c6c6ca" />
<rect x="189.65" y="420.44" width="6.375" height="12.58" fill="#c6c6ca" />
<rect x="196.025" y="420.44" width="6.375" height="12.58" fill="#c6c6ca" />
<rect x="202.4" y="420.44" width="6.375" height="12.58" fill="#c6c6ca" />
<rect x="208.775" y="420.44" width="6.375" height="12.58" fill="#c6c6ca" />
<rect x="215.15" y="420.44" width="6.375" height="12.58" fill="#c6c6ca" />
<rect x="221.525" y="420.44" width="6.375" height="12.58" fill="#c6c6ca" />
<rect x="227.9" y="420.44" width="6.375" height="12.58" fill="#c6c6ca" />
<rect x="234.275" y="420.44" width="6.375" height="12.58" fill="#c6c6ca" />
<rect x="240.65" y="420.44" width="6.375" height="12.58" fill="#c6c6ca" />
<rect x="247.025" y="420.44" width="6.375" height="12.58" fill="#c6c6ca" />
<rect x="253.4" y="420.44" width="6.375" height="12.58" fill="#c6c6ca" />
<rect x="259.775" y="420.44" width="6.375" height="12.58" fill="#c6c6ca" />
<rect x="266.15" y="420.44" width="6.375" height="12.58" fill="#c6c6ca" />
<rect x="272.525" y="420.44" width="6.375" height="12.58" fill="#c6c6ca" />
<rect x="278.9" y="420.44" width="6.375" height="12.58" fill="#c6c6ca" />
<rect x="285.275" y="420.44" width="6.375" height="12.58" fill="#c6c6ca" />
<rect x="291.65" y="420.44" width="6.375" height="12.58" fill="#c6c6ca" />
<rect x="298.025" y="420.44" width="6.375" height="12.58" fill="#c6c6ca" />
<rect x="74.9" y="433.02" width="6.375" height="12.58" fill="#c6c6ca" />
<rect x="81.275" y="433.02" width="6.375" height="12.58" fill="#c6c6ca" />
<rect x="87.65" y="433.02" width="6.375" height="12.58" fill="#c6c6ca" />
<rect x="94.025" y="433.02" width="6.375" height="12.58" fill="#c6c6ca" />
<rect x="100.4" y="433.02" width="6.375" height="12.58" fill="#c6c6ca" />
<rect x="106.775" y="433.02" width="6.375" height="12.58" fill="#c6c6ca" />
<rect x="113.15" y="433.02" width="6.375" height="12.58" fill="#c6c6ca" />
<rect x="119.525" y="433.02" width="6.375" height="12.58" fill="#c6c6ca" />
<rect x="125.9" y="433.02" width="6.375" height="12.58" fill="#c6c6ca" />
<rect x="134.7125" y="438.02" width="1.5" height="4.8" fill="#2e2e2e" rx="0.4"/>
<rect x="138.65" y="433.02" width="6.375" height="12.58" fill="#c6c6ca" />
<rect x="145.025" y="433.02" width="6.375" height="12.58" fill="#c6c6ca" />
<rect x="151.4" y="433.02" width="6.375" height="12.58" fill="#c6c6ca" />
<rect x="157.775" y="433.02" width="6.375" height="12.58" fill="#c6c6ca" />
<rect x="164.15" y="433.02" width="6.375" height="12.58" fill="#c6c6ca" />
<rect x="170.525" y="433.02" width="6.375" height="12.58" fill="#c6c6ca" />
<rect x="176.9" y="433.02" width="6.375" height="12.58" fill="#c6c6ca" />
<rect x="183.275" y="433.02" width="6.375" height="12.58" fill="#c6c6ca" />
<rect x="189.65" y="433.02" width="6.375" height="12.58" fill="#c6c6ca" />
<rect x="196.025" y="433.02" width="6.375" height="12.58" fill="#c6c6ca" />
<rect x="202.4" y="433.02" width="6.375" height="12.58" fill="#c6c6ca" />
<rect x="208.775" y="433.02" width="6.375" height="12.58" fill="#c6c6ca" />
<rect x="215.15" y="433.02" width="6.375" height="12.58" fill="#c6c6ca" />
<rect x="221.525" y="433.02" width="6.375" height="12.58" fill="#c6c6ca" />
<rect x="227.9" y="433.02" width="6.375" height="12.58" fill="#c6c6ca" />
<rect x="234.275" y="433.02" width="6.375" height="12.58" fill="#c6c6ca" />
<rect x="240.65" y="433.02" width="6.375" height="12.58" fill="#c6c6ca" />
<rect x="247.025" y="433.02" width="6.375" height="12.58" fill="#c6c6ca" />
<rect x="255.83749999999998" y="438.02" width="1.5" height="4.8" fill="#2e2e2e" rx="0.4"/>
<rect x="259.775" y="433.02" width="6.375" height="12.58" fill="#c6c6ca" />
<rect x="266.15" y="433.02" width="6.375" height="12.58" fill="#c6c6ca" />
<rect x="272.525" y="433.02" width="6.375" height="12.58" fill="#c6c6ca" />
<rect x="278.9" y="433.02" width="6.375" height="12.58" fill="#c6c6ca" />
<rect x="285.275" y="433.02" width="6.375" height="12.58" fill="#c6c6ca" />
<rect x="291.65" y="433.02" width="6.375" height="12.58" fill="#c6c6ca" />
<rect x="298.025" y="433.02" width="6.375" height="12.58" fill="#c6c6ca" />
<rect x="74.9" y="445.59999999999997" width="6.375" height="12.58" fill="#c6c6ca" />
<rect x="81.275" y="445.59999999999997" width="6.375" height="12.58" fill="#c6c6ca" />
<rect x="94.025" y="445.59999999999997" width="6.375" height="12.58" fill="#c6c6ca" />
<rect x="100.4" y="445.59999999999997" width="6.375" height="12.58" fill="#c6c6ca" />
<rect x="113.15" y="445.59999999999997" width="6.375" height="12.58" fill="#c6c6ca" />
<rect x="119.525" y="445.59999999999997" width="6.375" height="12.58" fill="#c6c6ca" />
<rect x="125.9" y="445.59999999999997" width="6.375" height="12.58" fill="#c6c6ca" />
<rect x="132.275" y="445.59999999999997" width="6.375" height="12.58" fill="#c6c6ca" />
<rect x="138.65" y="445.59999999999997" width="6.375" height="12.58" fill="#c6c6ca" />
<rect x="145.025" y="445.59999999999997" width="6.375" height="12.58" fill="#c6c6ca" />
<rect x="151.4" y="445.59999999999997" width="6.375" height="12.58" fill="#c6c6ca" />
<rect x="157.775" y="445.59999999999997" width="6.375" height="12.58" fill="#c6c6ca" />
<rect x="164.15" y="445.59999999999997" width="6.375" height="12.58" fill="#c6c6ca" />
<rect x="189.65" y="445.59999999999997" width="6.375" height="12.58" fill="#c6c6ca" />
<rect x="196.025" y="445.59999999999997" width="6.375" height="12.58" fill="#c6c6ca" />
<rect x="202.4" y="445.59999999999997" width="6.375" height="12.58" fill="#c6c6ca" />
<rect x="208.775" y="445.59999999999997" width="6.375" height="12.58" fill="#c6c6ca" />
<rect x="215.15" y="445.59999999999997" width="6.375" height="12.58" fill="#c6c6ca" />
<rect x="221.525" y="445.59999999999997" width="6.375" height="12.58" fill="#c6c6ca" />
<rect x="236.7125" y="450.59999999999997" width="1.5" height="4.8" fill="#2e2e2e" rx="0.4"/>
<rect x="262.2125" y="450.59999999999997" width="1.5" height="4.8" fill="#2e2e2e" rx="0.4"/>
<rect x="274.9625" y="450.59999999999997" width="1.5" height="4.8" fill="#2e2e2e" rx="0.4"/>
<rect x="81.275" y="458.18" width="6.375" height="12.58" fill="#d9d9dc" />
<rect x="102.8375" y="463.18" width="1.5" height="4.8" fill="#2e2e2e" rx="0.4"/>
<rect x="119.525" y="458.18" width="6.375" height="12.58" fill="#d9d9dc" />
<rect x="151.4" y="458.18" width="6.375" height="12.58" fill="#d9d9dc" />
<rect x="157.775" y="458.18" width="6.375" height="12.58" fill="#d9d9dc" />
<rect x="166.5875" y="463.18" width="1.5" height="4.8" fill="#2e2e2e" rx="0.4"/>
<rect x="172.9625" y="463.18" width="1.5" height="4.8" fill="#2e2e2e" rx="0.4"/>
<rect x="176.9" y="458.18" width="6.375" height="12.58" fill="#d9d9dc" />
<rect x="185.7125" y="463.18" width="1.5" height="4.8" fill="#2e2e2e" rx="0.4"/>
<rect x="196.025" y="458.18" width="6.375" height="12.58" fill="#d9d9dc" />
<rect x="208.775" y="458.18" width="6.375" height="12.58" fill="#d9d9dc" />
<rect x="215.15" y="458.18" width="6.375" height="12.58" fill="#d9d9dc" />
<rect x="223.9625" y="463.18" width="1.5" height="4.8" fill="#2e2e2e" rx="0.4"/>
<rect x="230.3375" y="463.18" width="1.5" height="4.8" fill="#2e2e2e" rx="0.4"/>
<rect x="236.7125" y="463.18" width="1.5" height="4.8" fill="#2e2e2e" rx="0.4"/>
<rect x="240.65" y="458.18" width="6.375" height="12.58" fill="#d9d9dc" />
<rect x="249.4625" y="463.18" width="1.5" height="4.8" fill="#2e2e2e" rx="0.4"/>
<rect x="253.4" y="458.18" width="6.375" height="12.58" fill="#d9d9dc" />
<rect x="262.2125" y="463.18" width="1.5" height="4.8" fill="#2e2e2e" rx="0.4"/>
<rect x="268.5875" y="463.18" width="1.5" height="4.8" fill="#2e2e2e" rx="0.4"/>
<rect x="272.525" y="458.18" width="6.375" height="12.58" fill="#d9d9dc" />
<rect x="281.3375" y="463.18" width="1.5" height="4.8" fill="#2e2e2e" rx="0.4"/>
<rect x="287.7125" y="463.18" width="1.5" height="4.8" fill="#2e2e2e" rx="0.4"/>
<rect x="294.0875" y="463.18" width="1.5" height="4.8" fill="#2e2e2e" rx="0.4"/>
<line x1="7.5" y1="382.7" x2="304.4" y2="382.7" stroke="#222226" stroke-width="1.2"/>
<line x1="7.5" y1="395.28" x2="304.4" y2="395.28" stroke="#222226" stroke-width="1.2"/>
<line x1="7.5" y1="407.86" x2="304.4" y2="407.86" stroke="#222226" stroke-width="1.2"/>
<line x1="7.5" y1="420.44" x2="304.4" y2="420.44" stroke="#222226" stroke-width="1.2"/>
<line x1="7.5" y1="433.02" x2="304.4" y2="433.02" stroke="#222226" stroke-width="1.2"/>
<line x1="7.5" y1="445.59999999999997" x2="304.4" y2="445.59999999999997" stroke="#222226" stroke-width="1.2"/>
<line x1="7.5" y1="458.18" x2="304.4" y2="458.18" stroke="#222226" stroke-width="1.2"/>
<line x1="7.5" y1="470.76" x2="304.4" y2="470.76" stroke="#222226" stroke-width="1.2"/>
<line x1="7.5" y1="483.34" x2="304.4" y2="483.34" stroke="#222226" stroke-width="1.2"/>
<line x1="7.5" y1="382.7" x2="7.5" y2="483.34" stroke="#222226" stroke-width="1.2"/>
<line x1="74.9" y1="382.7" x2="74.9" y2="483.34" stroke="#222226" stroke-width="1.2"/>
<line x1="81.275" y1="382.7" x2="81.275" y2="483.34" stroke="#222226" stroke-width="1.2"/>
<line x1="87.65" y1="382.7" x2="87.65" y2="483.34" stroke="#222226" stroke-width="1.2"/>
<line x1="94.025" y1="382.7" x2="94.025" y2="483.34" stroke="#222226" stroke-width="1.2"/>
<line x1="100.4" y1="382.7" x2="100.4" y2="483.34" stroke="#222226" stroke-width="1.2"/>
<line x1="106.775" y1="382.7" x2="106.775" y2="483.34" stroke="#222226" stroke-width="1.2"/>
<line x1="113.15" y1="382.7" x2="113.15" y2="483.34" stroke="#222226" stroke-width="1.2"/>
<line x1="119.525" y1="382.7" x2="119.525" y2="483.34" stroke="#222226" stroke-width="1.2"/>
<line x1="125.9" y1="382.7" x2="125.9" y2="483.34" stroke="#222226" stroke-width="1.2"/>
<line x1="132.275" y1="382.7" x2="132.275" y2="483.34" stroke="#222226" stroke-width="1.2"/>
<line x1="138.65" y1="382.7" x2="138.65" y2="483.34" stroke="#222226" stroke-width="1.2"/>
<line x1="145.025" y1="382.7" x2="145.025" y2="483.34" stroke="#222226" stroke-width="1.2"/>
<line x1="151.4" y1="382.7" x2="151.4" y2="483.34" stroke="#222226" stroke-width="1.2"/>
<line x1="157.775" y1="382.7" x2="157.775" y2="483.34" stroke="#222226" stroke-width="1.2"/>
<line x1="164.15" y1="382.7" x2="164.15" y2="483.34" stroke="#222226" stroke-width="1.2"/>
<line x1="170.525" y1="382.7" x2="170.525" y2="483.34" stroke="#222226" stroke-width="1.2"/>
<line x1="176.9" y1="382.7" x2="176.9" y2="483.34" stroke="#222226" stroke-width="1.2"/>
<line x1="183.275" y1="382.7" x2="183.275" y2="483.34" stroke="#222226" stroke-width="1.2"/>
<line x1="189.65" y1="382.7" x2="189.65" y2="483.34" stroke="#222226" stroke-width="1.2"/>
<line x1="196.025" y1="382.7" x2="196.025" y2="483.34" stroke="#222226" stroke-width="1.2"/>
<line x1="202.4" y1="382.7" x2="202.4" y2="483.34" stroke="#222226" stroke-width="1.2"/>
<line x1="208.775" y1="382.7" x2="208.775" y2="483.34" stroke="#222226" stroke-width="1.2"/>
<line x1="215.15" y1="382.7" x2="215.15" y2="483.34" stroke="#222226" stroke-width="1.2"/>
<line x1="221.525" y1="382.7" x2="221.525" y2="483.34" stroke="#222226" stroke-width="1.2"/>
<line x1="227.9" y1="382.7" x2="227.9" y2="483.34" stroke="#222226" stroke-width="1.2"/>
<line x1="234.275" y1="382.7" x2="234.275" y2="483.34" stroke="#222226" stroke-width="1.2"/>
<line x1="240.65" y1="382.7" x2="240.65" y2="483.34" stroke="#222226" stroke-width="1.2"/>
<line x1="247.025" y1="382.7" x2="247.025" y2="483.34" stroke="#222226" stroke-width="1.2"/>
<line x1="253.4" y1="382.7" x2="253.4" y2="483.34" stroke="#222226" stroke-width="1.2"/>
<line x1="259.775" y1="382.7" x2="259.775" y2="483.34" stroke="#222226" stroke-width="1.2"/>
<line x1="266.15" y1="382.7" x2="266.15" y2="483.34" stroke="#222226" stroke-width="1.2"/>
<line x1="272.525" y1="382.7" x2="272.525" y2="483.34" stroke="#222226" stroke-width="1.2"/>
<line x1="278.9" y1="382.7" x2="278.9" y2="483.34" stroke="#222226" stroke-width="1.2"/>
<line x1="285.275" y1="382.7" x2="285.275" y2="483.34" stroke="#222226" stroke-width="1.2"/>
<line x1="291.65" y1="382.7" x2="291.65" y2="483.34" stroke="#222226" stroke-width="1.2"/>
<line x1="298.025" y1="382.7" x2="298.025" y2="483.34" stroke="#222226" stroke-width="1.2"/>
<line x1="304.4" y1="382.7" x2="304.4" y2="483.34" stroke="#222226" stroke-width="1.2"/>
<line x1="74.9" y1="360.5" x2="304.4" y2="360.5" stroke="#222226" stroke-width="1.2"/>
<line x1="74.9" y1="360.5" x2="74.9" y2="382.7" stroke="#222226" stroke-width="1.2"/>
<line x1="304.4" y1="360.5" x2="304.4" y2="382.7" stroke="#222226" stroke-width="1.2"/>
<line x1="151.4" y1="360.5" x2="151.4" y2="382.7" stroke="#222226" stroke-width="1.2"/>
<line x1="227.9" y1="371.7" x2="227.9" y2="382.7" stroke="#222226" stroke-width="1.2"/>
<text x="94.3" y="368.4" font-size="8.6" fill="#1a1a1a" textLength="32.6" lengthAdjust="spacingAndGlyphs">LTC-CFC</text>
<text x="103.1" y="380.3" font-size="8.6" fill="#1a1a1a" textLength="15.6" lengthAdjust="spacingAndGlyphs">HSC</text>
<text x="220.1" y="367.6" font-size="8.6" fill="#1a1a1a" textLength="15.2" lengthAdjust="spacingAndGlyphs">CFC</text>
<text x="179.3" y="380.4" font-size="8.6" fill="#1a1a1a" textLength="15.5" lengthAdjust="spacingAndGlyphs">MEP</text>
<text x="259.6" y="380.4" font-size="8.6" fill="#1a1a1a" textLength="17.4" lengthAdjust="spacingAndGlyphs">GMP</text>
<text x="10.6" y="392.9" font-size="8.2" text-anchor="start" font-weight="normal" font-style="normal" fill="#1a1a1a" >PAT 3</text>
<text x="10.6" y="405.47999999999996" font-size="8.2" text-anchor="start" font-weight="normal" font-style="normal" fill="#1a1a1a" >PAT 4</text>
<text x="10.6" y="418.06" font-size="8.2" text-anchor="start" font-weight="normal" font-style="normal" fill="#1a1a1a" >PAT 5</text>
<text x="10.6" y="430.64" font-size="8.2" text-anchor="start" font-weight="normal" font-style="normal" fill="#1a1a1a" >PAT 6</text>
<text x="10.6" y="443.21999999999997" font-size="8.2" text-anchor="start" font-weight="normal" font-style="normal" fill="#1a1a1a" >PAT 7</text>
<text x="10.6" y="455.79999999999995" font-size="8.2" text-anchor="start" font-weight="normal" font-style="normal" fill="#1a1a1a" >PAT 11</text>
<text x="10.6" y="468.38" font-size="8.2" text-anchor="start" font-weight="normal" font-style="normal" fill="#1a1a1a" >PAT 12</text>
<text x="10.6" y="480.96" font-size="8.2" fill="#1a1a1a">PAT 13 <tspan font-size="5.6" font-style="italic">(SF3B1 WT)</tspan></text>
<text x="320.4" y="353.6" font-size="11.8" text-anchor="start" font-weight="bold" font-style="normal" fill="#000" >C</text>
<rect x="364.70000000000005" y="362.29999999999995" width="69.19999999999996" height="12.2" fill="#c6c6ca" />
<line x1="433.9" y1="368.4" x2="445.4" y2="368.4" stroke="#151515" stroke-width="1.2"/>
<line x1="445.4" y1="365.29999999999995" x2="445.4" y2="371.5" stroke="#151515" stroke-width="1.3"/>
<line x1="360.90000000000003" y1="368.4" x2="364.1" y2="368.4" stroke="#111" stroke-width="1.5"/>
<text x="357.6" y="371.29999999999995" font-size="8.6" text-anchor="end" font-weight="normal" font-style="normal" fill="#1a1a1a" >HSC</text>
<rect x="364.70000000000005" y="381.0" width="51.4" height="12.2" fill="#c6c6ca" />
<line x1="416.1" y1="387.1" x2="420.8" y2="387.1" stroke="#151515" stroke-width="1.2"/>
<line x1="420.8" y1="384.0" x2="420.8" y2="390.20000000000005" stroke="#151515" stroke-width="1.3"/>
<line x1="360.90000000000003" y1="387.1" x2="364.1" y2="387.1" stroke="#111" stroke-width="1.5"/>
<text x="357.6" y="390.0" font-size="8.6" text-anchor="end" font-weight="normal" font-style="normal" fill="#1a1a1a" >GMP</text>
<rect x="364.70000000000005" y="399.79999999999995" width="57.499999999999964" height="12.2" fill="#c6c6ca" />
<line x1="422.2" y1="405.9" x2="428.0" y2="405.9" stroke="#151515" stroke-width="1.2"/>
<line x1="428.0" y1="402.79999999999995" x2="428.0" y2="409.0" stroke="#151515" stroke-width="1.3"/>
<line x1="360.90000000000003" y1="405.9" x2="364.1" y2="405.9" stroke="#111" stroke-width="1.5"/>
<text x="357.6" y="408.79999999999995" font-size="8.6" text-anchor="end" font-weight="normal" font-style="normal" fill="#1a1a1a" >MEP</text>
<rect x="364.70000000000005" y="418.59999999999997" width="71.4" height="12.2" fill="#c6c6ca" />
<line x1="436.1" y1="424.7" x2="441.6" y2="424.7" stroke="#151515" stroke-width="1.2"/>
<line x1="441.6" y1="421.59999999999997" x2="441.6" y2="427.8" stroke="#151515" stroke-width="1.3"/>
<line x1="360.90000000000003" y1="424.7" x2="364.1" y2="424.7" stroke="#111" stroke-width="1.5"/>
<text x="357.6" y="427.59999999999997" font-size="8.6" text-anchor="end" font-weight="normal" font-style="normal" fill="#1a1a1a" >Bulk</text>
<line x1="360.90000000000003" y1="443.2" x2="364.1" y2="443.2" stroke="#111" stroke-width="1.5"/>
<text x="357.6" y="446.09999999999997" font-size="8.6" text-anchor="end" font-weight="normal" font-style="normal" fill="#1a1a1a" >PB T cells</text>
<line x1="364.1" y1="359.5" x2="364.1" y2="452.90000000000003" stroke="#111" stroke-width="1.5"/>
<line x1="363.5" y1="452.3" x2="507.7" y2="452.3" stroke="#111" stroke-width="1.5"/>
<line x1="364.1" y1="452.3" x2="364.1" y2="455.7" stroke="#111" stroke-width="1.5"/>
<text x="364.1" y="466.3" font-size="8.6" text-anchor="middle" font-weight="normal" font-style="normal" fill="#1a1a1a" >0</text>
<line x1="392.1" y1="452.3" x2="392.1" y2="455.7" stroke="#111" stroke-width="1.5"/>
<text x="392.1" y="466.3" font-size="8.6" text-anchor="middle" font-weight="normal" font-style="normal" fill="#1a1a1a" >20</text>
<line x1="420.1" y1="452.3" x2="420.1" y2="455.7" stroke="#111" stroke-width="1.5"/>
<text x="420.1" y="466.3" font-size="8.6" text-anchor="middle" font-weight="normal" font-style="normal" fill="#1a1a1a" >40</text>
<line x1="448.1" y1="452.3" x2="448.1" y2="455.7" stroke="#111" stroke-width="1.5"/>
<text x="448.1" y="466.3" font-size="8.6" text-anchor="middle" font-weight="normal" font-style="normal" fill="#1a1a1a" >60</text>
<line x1="476.1" y1="452.3" x2="476.1" y2="455.7" stroke="#111" stroke-width="1.5"/>
<text x="476.1" y="466.3" font-size="8.6" text-anchor="middle" font-weight="normal" font-style="normal" fill="#1a1a1a" >80</text>
<line x1="504.1" y1="452.3" x2="504.1" y2="455.7" stroke="#111" stroke-width="1.5"/>
<text x="504.1" y="466.3" font-size="8.6" text-anchor="middle" font-weight="normal" font-style="normal" fill="#1a1a1a" >100</text>
<text x="367.2" y="479.6" font-size="10.4" fill="#1a1a1a" textLength="117.6" lengthAdjust="spacingAndGlyphs"><tspan font-style="italic">SF3B1</tspan> variant allele frequency</text>
<text x="490.8" y="479.6" font-size="10.4" fill="#1a1a1a" textLength="13.8" lengthAdjust="spacingAndGlyphs">(%)</text>
<rect x="0" y="0" width="520" height="1" fill="#000" />
<rect x="0" y="1" width="520" height="1" fill="#888" />
<rect x="0" y="0" width="1" height="490" fill="#000" />
<rect x="1" y="0" width="1" height="490" fill="#888" />
<rect x="519" y="0" width="1" height="490" fill="#000" />
<rect x="518" y="0" width="1" height="490" fill="#888" />
<rect x="0" y="489" width="520" height="1" fill="#000" />
<rect x="0" y="488" width="520" height="1" fill="#888" />
</svg></body></html>
